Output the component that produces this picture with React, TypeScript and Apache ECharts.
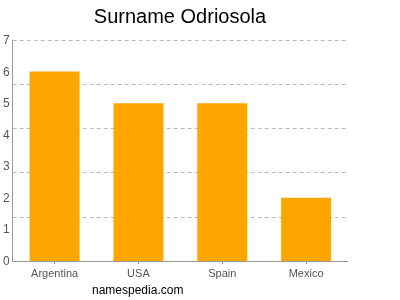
import React, { useEffect, useRef } from "react";
import * as echarts from "echarts";

const categories = ["Argentina", "USA", "Spain", "Mexico"];
const values = [6, 5, 5, 2];
const yTicks = [0, 1, 2, 3, 4, 5, 6, 7];

export default function App() {
  const ref = useRef<HTMLDivElement>(null);
  useEffect(() => {
    const chart = echarts.init(ref.current!, null, { renderer: "svg" });
    chart.setOption({
      animation: false,
      textStyle: { fontFamily: "Liberation Sans, Arial, sans-serif" },
      title: {
        text: "Surname Odriosola",
        left: 175,
        top: 1,
        textAlign: "center",
        textStyle: { fontSize: 20, fontWeight: "normal", color: "#000", fontFamily: "Liberation Sans, Arial, sans-serif" },
      },
      graphic: [
        {
          type: "text",
          left: 92,
          top: 284,
          style: { text: "namespedia.com", fontSize: 12, fill: "#000", fontFamily: "Liberation Sans, Arial, sans-serif" },
        },
      ],
      grid: { left: 12, right: 52, top: 40, bottom: 39, containLabel: false },
      xAxis: {
        type: "category",
        data: categories,
        axisLine: { lineStyle: { color: "#999" } },
        axisTick: { show: true, alignWithLabel: true, length: 3, lineStyle: { color: "#999" } },
        axisLabel: { color: "#555", fontSize: 11, margin: 6 },
      },
      yAxis: [
        {
          type: "value",
          min: yTicks[0],
          max: yTicks[yTicks.length - 1],
          interval: 1,
          axisLine: { show: true, lineStyle: { color: "#999" } },
          axisTick: { show: false },
          axisLabel: { color: "#555", fontSize: 12, margin: 3 },
          splitLine: { show: false },
        },
        {
          type: "value",
          min: 0,
          max: 7,
          interval: 1.4,
          position: "left",
          axisLine: { show: false },
          axisTick: { show: false },
          axisLabel: { show: false },
          splitLine: { show: true, lineStyle: { color: "#bbb", type: [4, 3], width: 1 } },
        },
      ],
      series: [
        {
          type: "bar",
          data: values,
          barWidth: 50,
          itemStyle: { color: "#FFA500" },
          yAxisIndex: 0,
          z: 3,
        },
      ],
    });
    return () => chart.dispose();
  }, []);
  return <div ref={ref} style={{ position: "fixed", left: 0, top: 0, width: 400, height: 300 }} />;
}
